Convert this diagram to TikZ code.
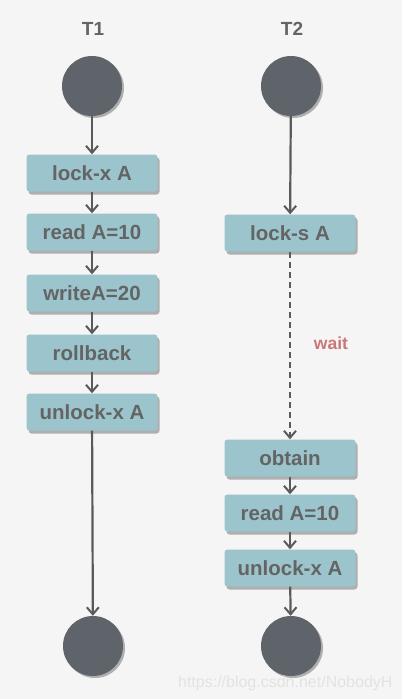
\documentclass[tikz,border=0pt]{standalone}
\usepackage{fontspec}
\setmainfont{Liberation Sans}
\usetikzlibrary{arrows.meta,shadows}
\definecolor{bgc}{RGB}{245,245,245}
\definecolor{boxc}{RGB}{155,196,204}
\definecolor{circc}{RGB}{95,99,106}
\definecolor{txtc}{RGB}{100,100,100}
\definecolor{linec}{RGB}{90,90,90}
\definecolor{waitc}{RGB}{200,120,120}
\definecolor{shc}{RGB}{175,175,175}
\tikzset{
  stepbox/.style={fill=boxc, rounded corners=3pt, minimum width=131pt, minimum height=37pt,
    inner sep=0pt, text=txtc, font=\fontsize{20.5}{24}\selectfont\bfseries,
    drop shadow={shadow xshift=2pt, shadow yshift=-3pt, fill=shc, opacity=1}},
  endpt/.style={circle, fill=circc, minimum size=60pt, inner sep=0pt,
    drop shadow={shadow xshift=2pt, shadow yshift=-2pt, fill=shc, opacity=1}},
  title/.style={text=txtc, font=\fontsize{19}{22}\selectfont\bfseries},
  flow/.style={draw=linec, line width=2.2pt, -{Straight Barb[length=7pt,width=12pt,line width=2pt]}},
}
\begin{document}
\begin{tikzpicture}[x=1pt,y=-1pt]
\fill[bgc] (0,0) rectangle (402,699);
\useasboundingbox (0,0) rectangle (402,699);
% T1
\node[title] (t1) at (93,29) {T1};
\node[endpt] (s1) at (92,86) {};
\node[stepbox] (a1) at (92,173) {lock-x A};
\node[stepbox] (a2) at (92,232) {read A=10};
\node[stepbox] (a3) at (92,293) {writeA=20};
\node[stepbox] (a4) at (92,353) {rollback};
\node[stepbox] (a5) at (92,412) {unlock-x A};
\node[endpt] (e1) at (93,646) {};
\draw[flow] (s1) -- (a1);
\draw[flow] (a1) -- (a2);
\draw[flow] (a2) -- (a3);
\draw[flow] (a3) -- (a4);
\draw[flow] (a4) -- (a5);
\draw[flow] (a5) -- (e1);
% T2
\node[title] (t2) at (292,29) {T2};
\node[endpt] (s2) at (291,86) {};
\node[stepbox] (b1) at (290,233) {lock-s A};
\node[stepbox] (b2) at (290,458) {obtain};
\node[stepbox] (b3) at (290,513) {read A=10};
\node[stepbox] (b4) at (290,568) {unlock-x A};
\node[endpt] (e2) at (291,646) {};
\draw[flow] (s2) -- (b1);
\draw[flow, dash pattern=on 6pt off 4pt] (b1) -- (b2);
\draw[flow] (b2) -- (b3);
\draw[flow] (b3) -- (b4);
\draw[flow] (b4) -- (e2);
\node[text=waitc, font=\fontsize{17.5}{20}\selectfont\bfseries] (w) at (331,343) {wait};
\node[text=white!78!gray, font=\fontsize{16}{19}\selectfont, anchor=east] (wm) at (396,683) {https://blog.csdn.net/NobodyH};
\end{tikzpicture}
\end{document}
